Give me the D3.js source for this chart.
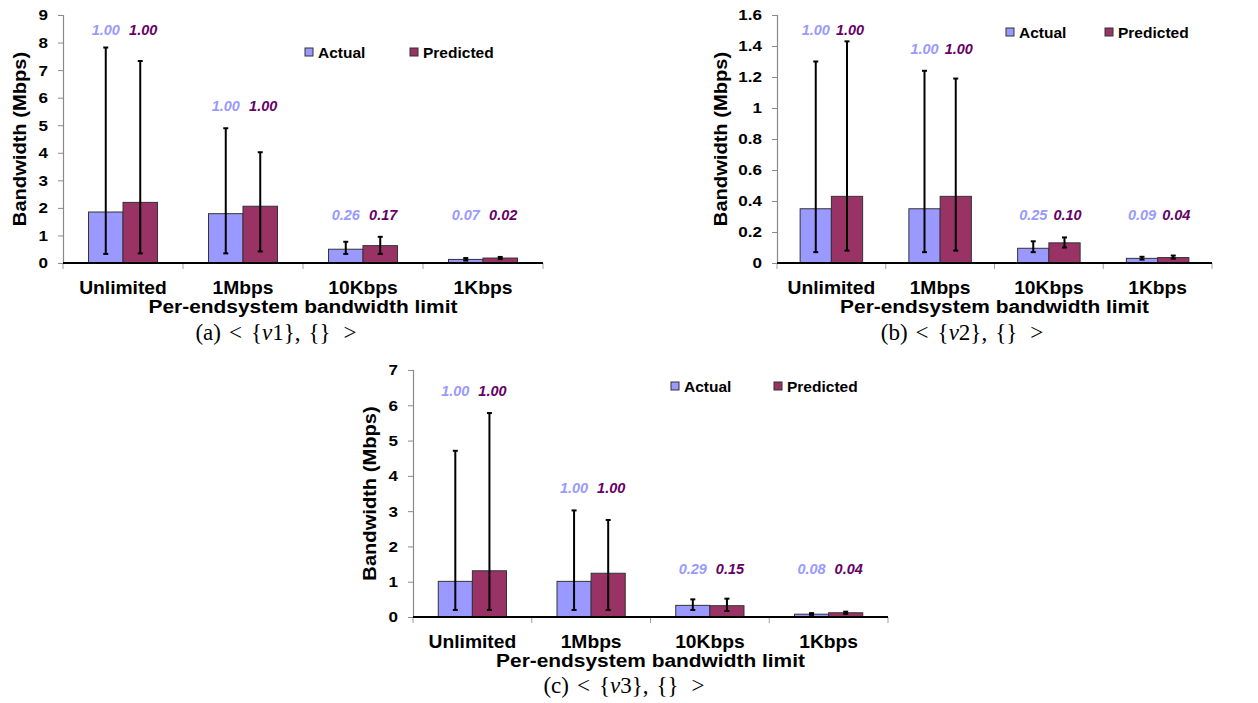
<!DOCTYPE html>
<html>
<head>
<meta charset="utf-8">
<script src="https://cdn.jsdelivr.net/npm/d3@7"></script>
<style>
body { margin: 0; background: #fff; }
text { font-family: "Liberation Sans", Arial, sans-serif; }
text.cap { font-family: "Liberation Serif", "Times New Roman", serif; }
</style>
</head>
<body>
<svg width="1258" height="703"></svg>
<script>
var categories = ["Unlimited", "1Mbps", "10Kbps", "1Kbps"];
var series = ["Actual", "Predicted"];

// (a) <{v1},{}>
var v1Actual = [1.85, 1.79, 0.50, 0.13];
var v1Predicted = [2.20, 2.06, 0.63, 0.18];
var v1ActualLo = [0.33, 0.35, 0.33, 0.09];
var v1ActualHi = [7.82, 4.89, 0.77, 0.18];
var v1PredictedLo = [0.35, 0.42, 0.33, 0.14];
var v1PredictedHi = [7.33, 4.02, 0.95, 0.22];
var v1ActualLabels = ["1.00", "1.00", "0.26", "0.07"];
var v1PredictedLabels = ["1.00", "1.00", "0.17", "0.02"];
var v1Ticks = [0, 1, 2, 3, 4, 5, 6, 7, 8, 9];

// (b) <{v2},{}>
var v2Actual = [0.35, 0.35, 0.095, 0.03];
var v2Predicted = [0.43, 0.43, 0.13, 0.035];
var v2ActualLo = [0.07, 0.07, 0.07, 0.022];
var v2ActualHi = [1.30, 1.24, 0.14, 0.04];
var v2PredictedLo = [0.08, 0.08, 0.10, 0.028];
var v2PredictedHi = [1.43, 1.19, 0.165, 0.048];
var v2ActualLabels = ["1.00", "1.00", "0.25", "0.09"];
var v2PredictedLabels = ["1.00", "1.00", "0.10", "0.04"];
var v2Ticks = [0, 0.2, 0.4, 0.6, 0.8, 1, 1.2, 1.4, 1.6];

// (c) <{v3},{}>
var v3Actual = [1.01, 1.01, 0.33, 0.08];
var v3Predicted = [1.31, 1.24, 0.32, 0.12];
var v3ActualLo = [0.2, 0.2, 0.2, 0.06];
var v3ActualHi = [4.71, 3.02, 0.50, 0.11];
var v3PredictedLo = [0.2, 0.2, 0.17, 0.09];
var v3PredictedHi = [5.78, 2.75, 0.52, 0.15];
var v3ActualLabels = ["1.00", "1.00", "0.29", "0.08"];
var v3PredictedLabels = ["1.00", "1.00", "0.15", "0.04"];
var v3Ticks = [0, 1, 2, 3, 4, 5, 6, 7];

var colors = ["#9999ff", "#993366"];      // bar fills
var labelColors = ["#9999ff", "#660066"]; // value label colours

// layout of the three sub-figures
var panels = [
  { tag: "a", v: "1", vals: [v1Actual, v1Predicted], lo: [v1ActualLo, v1PredictedLo], hi: [v1ActualHi, v1PredictedHi],
    labels: [v1ActualLabels, v1PredictedLabels], ticks: v1Ticks,
    x0: 63, w: 480, top: 15, bottom: 263, yTitleX: 26, legX: 305, legY: 48, legGap: 105, capX: 276, capY: 340 },
  { tag: "b", v: "2", vals: [v2Actual, v2Predicted], lo: [v2ActualLo, v2PredictedLo], hi: [v2ActualHi, v2PredictedHi],
    labels: [v2ActualLabels, v2PredictedLabels], ticks: v2Ticks,
    x0: 777, w: 435, top: 15, bottom: 263, yTitleX: 727, legX: 1006, legY: 28, legGap: 99, capX: 962, capY: 340 },
  { tag: "c", v: "3", vals: [v3Actual, v3Predicted], lo: [v3ActualLo, v3PredictedLo], hi: [v3ActualHi, v3PredictedHi],
    labels: [v3ActualLabels, v3PredictedLabels], ticks: v3Ticks,
    x0: 413, w: 475, top: 370, bottom: 617, yTitleX: 376, legX: 671, legY: 382, legGap: 103, capX: 624, capY: 693 }
];

var svg = d3.select("svg");
svg.append("rect").attr("width", 1258).attr("height", 703).attr("fill", "#fff");

// horizontal stretch of a text around its own anchor
function hs(sel, s) {
  sel.each(function() {
    var t = d3.select(this), x = +t.attr("x") || 0, y = +t.attr("y") || 0;
    t.attr("transform", "translate(" + x + "," + y + ") scale(" + s + ",1) translate(" + (-x) + "," + (-y) + ")");
  });
}

panels.forEach(function(p) {
  var g = svg.append("g");
  var x = d3.scaleBand().domain(categories).range([p.x0, p.x0 + p.w]);
  var xs = d3.scaleBand().domain(series).range([0, x.bandwidth()]).paddingInner(0).paddingOuter(0.74);
  var y = d3.scaleLinear().domain([0, p.ticks[p.ticks.length - 1]]).range([p.bottom, p.top]);

  // y axis
  var ya = g.append("g").attr("transform", "translate(" + p.x0 + ",0)")
    .call(d3.axisLeft(y).tickValues(p.ticks).tickSize(5).tickPadding(10).tickFormat(function(d) { return String(+d.toFixed(1)); }));
  ya.select(".domain").attr("stroke", "#8a8a8a").attr("stroke-width", 1.2);
  ya.selectAll(".tick line").attr("stroke", "#8a8a8a");
  ya.selectAll(".tick text").attr("font-size", 15.5).attr("font-weight", "bold").attr("fill", "#000").call(hs, 1.1);

  // category boundary ticks
  g.selectAll(".xt").data(categories.concat(["end"])).enter().append("line")
    .attr("x1", function(d) { return d === "end" ? p.x0 + p.w : x(d); })
    .attr("x2", function(d) { return d === "end" ? p.x0 + p.w : x(d); })
    .attr("y1", p.bottom).attr("y2", p.bottom + 6)
    .attr("stroke", "#a0a0a0").attr("stroke-width", 1);

  // bars
  series.forEach(function(s, si) {
    g.selectAll(".bar" + si).data(categories).enter().append("rect")
      .attr("x", function(c) { return x(c) + xs(s); })
      .attr("width", xs.bandwidth())
      .attr("y", function(c, i) { return y(p.vals[si][i]); })
      .attr("height", function(c, i) { return p.bottom - y(p.vals[si][i]); })
      .attr("fill", colors[si]).attr("stroke", "#333").attr("stroke-width", 1);
  });

  // error bars
  series.forEach(function(s, si) {
    categories.forEach(function(c, i) {
      var cx = x(c) + xs(s) + xs.bandwidth() / 2;
      var eb = g.append("g").attr("stroke", "#000").attr("stroke-width", 2);
      eb.append("line").attr("x1", cx).attr("x2", cx).attr("y1", y(p.lo[si][i])).attr("y2", y(p.hi[si][i]));
      [p.lo[si][i], p.hi[si][i]].forEach(function(v) {
        eb.append("line").attr("x1", cx - 2.5).attr("x2", cx + 2.5).attr("y1", y(v)).attr("y2", y(v));
      });
    });
  });

  // x axis line
  g.append("line").attr("x1", p.x0).attr("x2", p.x0 + p.w).attr("y1", p.bottom).attr("y2", p.bottom)
    .attr("stroke", "#000").attr("stroke-width", 2);

  // value labels
  categories.forEach(function(c, i) {
    var mx = Math.max(p.hi[0][i], p.hi[1][i]);
    var ly = Math.min(Math.max(p.top + 15, y(mx) - 22), p.bottom - 48);
    series.forEach(function(s, si) {
      var cx = x(c) + xs(s) + xs.bandwidth() / 2 + (si ? 3 : 0);
      g.append("text").attr("x", cx).attr("y", ly + 5).attr("text-anchor", "middle")
        .attr("font-size", 14.5).attr("font-weight", "bold").attr("font-style", "italic")
        .attr("fill", labelColors[si]).text(p.labels[si][i]);
    });
  });

  // category labels
  g.selectAll(".cl").data(categories).enter().append("text")
    .attr("x", function(c) { return x(c) + x.bandwidth() / 2; }).attr("y", p.bottom + 31)
    .attr("text-anchor", "middle").attr("font-size", 17.5).attr("font-weight", "bold")
    .text(function(c) { return c; }).call(hs, 1.1);

  // axis titles
  g.append("text").attr("x", p.x0 + p.w / 2).attr("y", p.bottom + 50).attr("text-anchor", "middle")
    .attr("font-size", 19).attr("font-weight", "bold").text("Per-endsystem bandwidth limit").call(hs, 1.1);
  g.append("text").attr("text-anchor", "middle").attr("font-size", 18.3).attr("font-weight", "bold")
    .attr("transform", "translate(" + p.yTitleX + "," + (p.top + p.bottom) / 2 + ") rotate(-90) scale(1.1,1)")
    .text("Bandwidth (Mbps)");

  // legend
  series.forEach(function(s, si) {
    var lx = p.legX + si * p.legGap;
    g.append("rect").attr("x", lx).attr("y", p.legY).attr("width", 8).attr("height", 8)
      .attr("fill", colors[si]).attr("stroke", "#333").attr("stroke-width", 1);
    g.append("text").attr("x", lx + 13).attr("y", p.legY + 9.5).attr("font-size", 15.5).attr("font-weight", "bold")
      .text(s);
  });

  // caption, with math-style spacing
  var cap = g.append("text").attr("class", "cap").attr("x", p.capX).attr("y", p.capY).attr("text-anchor", "middle")
    .attr("font-size", 23);
  cap.append("tspan").text("(" + p.tag + ")");
  cap.append("tspan").attr("dx", 8).text("<");
  cap.append("tspan").attr("dx", 9).text("{");
  cap.append("tspan").attr("font-style", "italic").text("v");
  cap.append("tspan").text(p.v + "},");
  cap.append("tspan").attr("dx", 8).text("{}");
  cap.append("tspan").attr("dx", 13).text(">");
});
</script>
</body>
</html>
